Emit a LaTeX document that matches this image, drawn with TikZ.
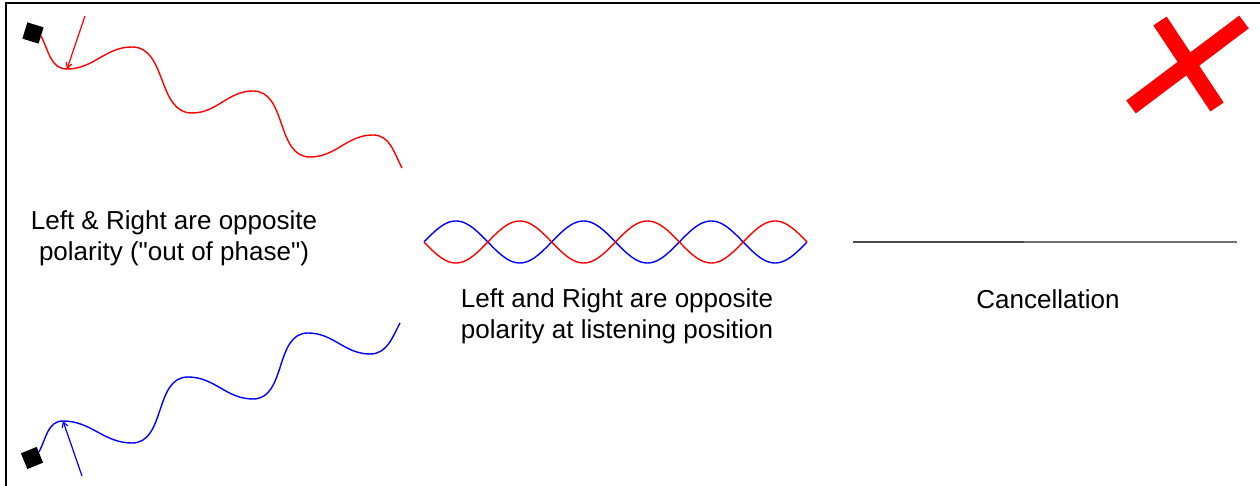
\documentclass[tikz,border=0pt]{standalone}
\usepackage{fontspec}
\setmainfont{Liberation Sans}
\usetikzlibrary{arrows.meta}
\begin{document}
\begin{tikzpicture}[x=1pt,y=1pt,
  wave/.style={line width=1.4pt},
  speaker/.style={fill=black, draw=none, minimum size=17pt, inner sep=0pt, rectangle},
  pointer/.style={line width=1.2pt, -{Straight Barb[length=5pt,width=6pt]}},
  label/.style={font=\fontsize{26}{31}\selectfont, align=center, inner sep=0pt},
  cross/.style={red, line width=16pt}
]
\useasboundingbox[fill=white] (0,0) rectangle (1260,486);
% frame
\draw[line width=2.5pt, line join=miter] (6,0) -- (6,483) -- (1260,483);

% speakers
\node[speaker, rotate=-17] (spkL) at (33,453) {};
\node[speaker, rotate=22] (spkR) at (32,28) {};

% red wave (left)
\coordinate (rS) at (41,450);
\coordinate (rt1) at (67,417);
\coordinate (rp1) at (132,439);
\coordinate (rt2) at (192,373);
\coordinate (rp2) at (253,395);
\coordinate (rt3) at (310,329);
\coordinate (rp3) at (373,351);
\coordinate (rE) at (402,318);
\draw[wave, red] (rS) to[out=-62,in=180] (rt1) to[out=0,in=180] (rp1)
  to[out=0,in=180] (rt2) to[out=0,in=180] (rp2) to[out=0,in=180] (rt3)
  to[out=0,in=180] (rp3) to[out=0,in=118] (rE);
\coordinate (rA) at (85,470);
\draw[pointer, red] (rA) -- (rt1);

% blue wave (right)
\coordinate (bS) at (39,34);
\coordinate (bp1) at (63,65);
\coordinate (bt1) at (132,43);
\coordinate (bp2) at (188,109);
\coordinate (bt2) at (253,87);
\coordinate (bp3) at (308,153);
\coordinate (bt3) at (370,132);
\coordinate (bE) at (400,163);
\draw[wave, blue] (bS) to[out=62,in=180] (bp1) to[out=0,in=180] (bt1)
  to[out=0,in=180] (bp2) to[out=0,in=180] (bt2) to[out=0,in=180] (bp3)
  to[out=0,in=180] (bt3) to[out=0,in=-118] (bE);
\coordinate (bA) at (82,10);
\draw[pointer, blue] (bA) -- (bp1);

% combined waves
\draw[wave, blue] plot[domain=424:807, samples=200] (\x, {244 + 21*sin((\x-424)/63.83*180)});
\draw[wave, red] plot[domain=424:807, samples=200] (\x, {244 - 21*sin((\x-424)/63.83*180)});

% cancellation line
\coordinate (c1) at (853,244);
\coordinate (c2) at (1024,244);
\coordinate (c3) at (1237,244);
\draw[line width=1.6pt, black!70] (c1) -- (c2);
\draw[line width=1.1pt, black!55] (c2) -- (c3);

% cross
\coordinate (x1a) at (1160,465);
\coordinate (x1b) at (1217,379);
\coordinate (x2a) at (1244,464);
\coordinate (x2b) at (1131,379);
\draw[cross] (x1a) -- (x1b);
\draw[cross] (x2a) -- (x2b);

% texts
\node[label] (tL) at (174,248) {Left \& Right are opposite\\polarity (\textquotedbl out of phase\textquotedbl)};
\node[label] (tM) at (617,170) {Left and Right are opposite\\polarity at listening position};
\node[label] (tC) at (1048,187) {Cancellation};
\end{tikzpicture}
\end{document}
